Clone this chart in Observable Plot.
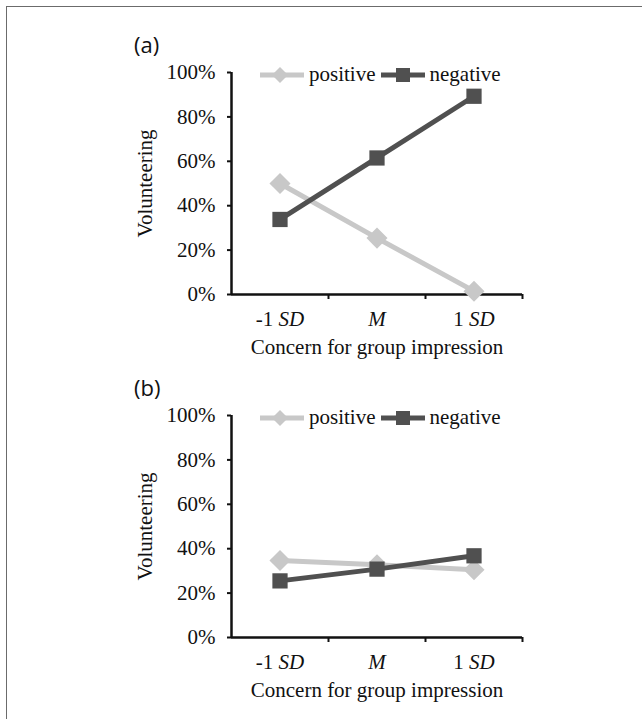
<!DOCTYPE html>
<html>
<head>
<meta charset="utf-8">
<script src="https://cdn.jsdelivr.net/npm/d3@7"></script>
<script src="https://cdn.jsdelivr.net/npm/@observablehq/plot@0.6"></script>
<style>
  html, body { margin: 0; padding: 0; background: #fff; }
  #page { position: relative; width: 642px; height: 719px; overflow: hidden; background: #fff; }
  .frameTop { position: absolute; left: 6px; top: 6px; width: 640px; height: 0; border-top: 1.5px solid #6b6b6b; }
  .frameLeft { position: absolute; left: 6px; top: 6px; width: 0; height: 720px; border-left: 1.5px solid #6b6b6b; }
  .panel { position: absolute; left: 0; }
  .panel svg text { font-family: "Liberation Serif", "Times New Roman", serif; font-variant: normal; }
  .plabel { position: absolute; font-family: "Open Sans", sans-serif; font-size: 22px; color: #111; line-height: 1; }
  .legend { position: absolute; left: 260px; font-family: "Liberation Serif", serif; font-size: 21px; color: #111; display: flex; align-items: center; line-height: 1; }
  .legend svg { display: block; }
  .legend span { margin: 0 5px 0 5px; }
</style>
</head>
<body>
<div id="page">
  <div class="frameTop"></div>
  <div class="frameLeft"></div>
</div>
<script>
// ---- data ----
const categories = ["-1 SD", "M", "1 SD"];
const seriesNames = ["positive", "negative"];
const panelA_positive = [0.50, 0.254, 0.015];
const panelA_negative = [0.338, 0.615, 0.893];
const panelB_positive = [0.347, 0.328, 0.305];
const panelB_negative = [0.255, 0.308, 0.368];
const yTicks = [0, 0.2, 0.4, 0.6, 0.8, 1.0];
const panelLabels = ["(a)", "(b)"];
const xTitle = "Concern for group impression";
const yTitle = "Volunteering";

const colors = {positive: "#c8c8c8", negative: "#505050"};
const serif = "'Liberation Serif', 'Times New Roman', serif";

function rows(pos, neg) {
  const out = [];
  categories.forEach((c, i) => out.push({cat: c, i, series: "positive", value: pos[i]}));
  categories.forEach((c, i) => out.push({cat: c, i, series: "negative", value: neg[i]}));
  return out;
}

function makePanel(data) {
  const pos = data.filter(d => d.series === "positive");
  const neg = data.filter(d => d.series === "negative");
  const xc = d => d.i + 0.5;
  const chart = Plot.plot({
    width: 642,
    height: 376,
    marginLeft: 231,
    marginRight: 120,
    marginTop: 72,
    marginBottom: 82,
    style: {fontFamily: serif, fontSize: "21px", color: "#111", background: "transparent", overflow: "visible"},
    x: {domain: [0, categories.length], axis: null},
    y: {domain: [0, 1], axis: null},
    marks: [
      Plot.axisY(yTicks, {
        tickFormat: d3.format(".0%"), tickSize: 4, tickPadding: 12,
        label: yTitle, labelAnchor: "center", labelArrow: "none", labelOffset: 94,
        stroke: "#111", strokeWidth: 2, fontSize: 21, fontFamily: serif
      }),
      Plot.axisX(d3.range(1, categories.length + 1), {
        tickSize: 5, tickFormat: () => "", stroke: "#111", strokeWidth: 2, label: null
      }),
      Plot.axisX(categories.map((c, i) => i + 0.5), {
        tickSize: 0, tickPadding: 17, tickFormat: v => categories[Math.floor(v)],
        label: xTitle, labelAnchor: "center", labelArrow: "none", labelOffset: 59, fontSize: 21, fontFamily: serif
      }),
      Plot.ruleX([0], {stroke: "#111", strokeWidth: 2.5}),
      Plot.ruleY([0], {stroke: "#111", strokeWidth: 2.5}),
      Plot.line(pos, {x: xc, y: "value", stroke: colors.positive, strokeWidth: 5}),
      Plot.dot(pos, {x: xc, y: "value", symbol: "diamond2", r: 9.5, fill: colors.positive, stroke: "none"}),
      Plot.line(neg, {x: xc, y: "value", stroke: colors.negative, strokeWidth: 5}),
      Plot.dot(neg, {x: xc, y: "value", symbol: "square", r: 8.6, fill: colors.negative, stroke: "none"})
    ]
  });
  // italic "SD" / "M"
  d3.select(chart).selectAll("g[aria-label='x-axis tick label'] text").each(function() {
    const t = d3.select(this);
    const s = t.text();
    if (s.includes("SD") || s === "M") {
      const parts = s === "M" ? ["", "M"] : [s.replace("SD", ""), "SD"];
      t.text(null);
      if (parts[0]) t.append("tspan").text(parts[0]);
      t.append("tspan").attr("font-style", "italic").text(parts[1]);
    }
  });
  return chart;
}

function legend() {
  const div = document.createElement("div");
  div.className = "legend";
  const mk = (name, shape) => {
    const c = colors[name];
    const svg = d3.create("svg").attr("width", 44).attr("height", 18);
    svg.append("line").attr("x1", 0).attr("x2", 44).attr("y1", 9).attr("y2", 9).attr("stroke", c).attr("stroke-width", 5);
    if (shape === "diamond") svg.append("path").attr("d", "M20,1L28,9L20,17L12,9Z").attr("fill", c);
    else svg.append("rect").attr("x", 15).attr("y", 2).attr("width", 14).attr("height", 14).attr("fill", c);
    div.appendChild(svg.node());
    const sp = document.createElement("span");
    sp.textContent = name;
    div.appendChild(sp);
  };
  mk(seriesNames[0], "diamond");
  mk(seriesNames[1], "square");
  return div;
}

const page = document.getElementById("page");
const panels = [rows(panelA_positive, panelA_negative), rows(panelB_positive, panelB_negative)];
const tops = [0, 343];
panels.forEach((data, k) => {
  const wrap = document.createElement("div");
  wrap.className = "panel";
  wrap.style.top = tops[k] + "px";
  wrap.appendChild(makePanel(data));
  page.appendChild(wrap);
  const lab = document.createElement("div");
  lab.className = "plabel";
  lab.textContent = panelLabels[k];
  lab.style.left = "134px";
  lab.style.top = (tops[k] + 33) + "px";
  page.appendChild(lab);
  const lg = legend();
  lg.style.top = (tops[k] + 64) + "px";
  page.appendChild(lg);
});
</script>
</body>
</html>
